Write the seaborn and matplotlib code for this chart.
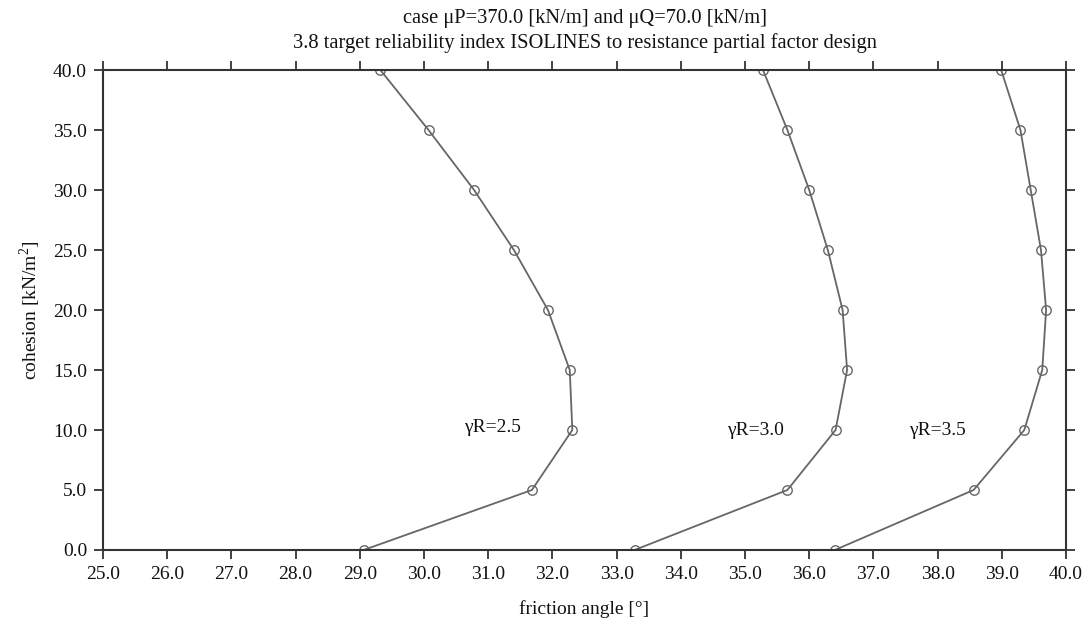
import numpy as np
import pandas as pd
import seaborn as sns
import matplotlib.pyplot as plt
from matplotlib.ticker import FormatStrFormatter, MultipleLocator

# cohesion levels shared by the three isolines
cohesion = [40.0, 35.0, 30.0, 25.0, 20.0, 15.0, 10.0, 5.0, 0.0]

# friction angle read along each isoline
phi_25 = [29.32, 30.07, 30.78, 31.40, 31.93, 32.27, 32.31, 31.68, 29.06]
phi_30 = [35.28, 35.66, 36.00, 36.29, 36.52, 36.59, 36.41, 35.66, 33.28]
phi_35 = [38.99, 39.29, 39.45, 39.61, 39.69, 39.63, 39.35, 38.56, 36.40]

series_names = ['γR=2.5', 'γR=3.0', 'γR=3.5']
label_x = [31.07, 35.17, 38.00]
label_y = [10.17, 10.0, 10.0]

df = pd.concat([
    pd.DataFrame({'phi': p, 'c': cohesion, 'series': n})
    for p, n in zip([phi_25, phi_30, phi_35], series_names)
])

sns.set_theme(style='ticks')
plt.rcParams['font.family'] = ['Liberation Serif', 'DejaVu Serif']
plt.rcParams['mathtext.fontset'] = 'custom'
plt.rcParams['mathtext.rm'] = 'Liberation Serif'

fig = plt.figure(figsize=(10.89, 6.29), dpi=100)
ax = fig.add_axes([0.0946, 0.1256, 0.8843, 0.7631])

line_col = '#666666'
sns.lineplot(data=df, x='phi', y='c', units='series', estimator=None, sort=False,
             color=line_col, marker='o', markersize=6.8, markeredgewidth=1.0,
             markeredgecolor=line_col, linewidth=1.3, ax=ax)
for ln in ax.lines:
    ln.set_markerfacecolor('none')

for name, tx, ty in zip(series_names, label_x, label_y):
    ax.text(tx, ty, name, ha='center', va='center', fontsize=14, color='#111111')

ax.set_xlim(25, 40)
ax.set_ylim(0, 40)
ax.xaxis.set_major_locator(MultipleLocator(1.0))
ax.yaxis.set_major_locator(MultipleLocator(5.0))
ax.xaxis.set_major_formatter(FormatStrFormatter('%.1f'))
ax.yaxis.set_major_formatter(FormatStrFormatter('%.1f'))

ax.tick_params(direction='out', length=6.5, width=1.3, color='#333333',
               labelsize=14, labelcolor='#111111', top=True, right=True,
               labeltop=False, labelright=False, pad=5)
for s in ax.spines.values():
    s.set_color('#333333')
    s.set_linewidth(1.5)

ax.set_xlabel('friction angle [°]', fontsize=14, color='#111111', labelpad=12)
ax.set_ylabel(r'cohesion [kN/m$^{2}$]', fontsize=14, color='#111111', labelpad=7)
ax.set_title('case μP=370.0 [kN/m] and μQ=70.0 [kN/m]\n'
             '3.8 target reliability index ISOLINES to resistance partial factor design',
             fontsize=14.8, color='#111111', pad=16, linespacing=1.3)

fig.savefig('out.png', dpi=100)
